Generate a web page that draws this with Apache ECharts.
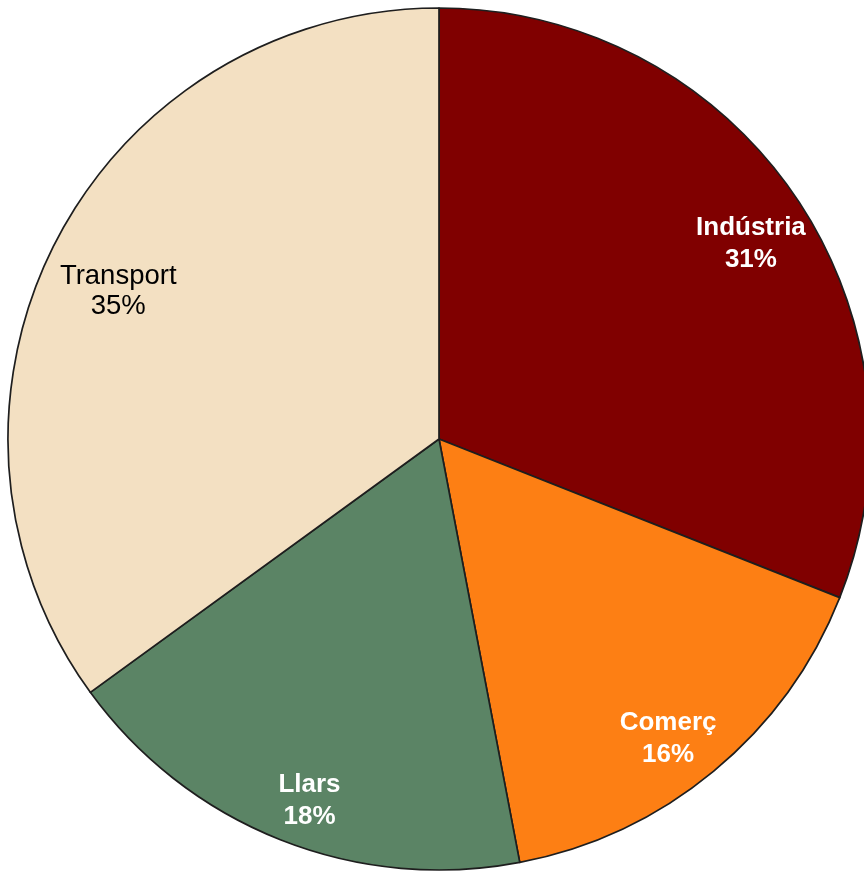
<!DOCTYPE html>
<html>
<head>
<meta charset="utf-8">
<script src="https://cdn.jsdelivr.net/npm/echarts@6/dist/echarts.min.js"></script>
<style>
html,body{margin:0;padding:0;background:#fff;}
#chart{width:864px;height:871px;}
</style>
</head>
<body>
<div id="chart"></div>
<script>
const categories = ['Indústria', 'Comerç', 'Llars', 'Transport'];
const values = [31, 16, 18, 35];
const colors = ['#800000', '#FD7F14', '#5B8465', '#F3E0C2'];
const labelColors = ['#ffffff', '#ffffff', '#ffffff', '#000000'];
const labelWeights = ['bold', 'bold', 'bold', 'normal'];

const chart = echarts.init(document.getElementById('chart'), null, {renderer: 'canvas'});

// small per-label nudges to match the reference label placement
const labelNudge = {
  'Indústria': {offset: [3, 15], fontSize: 26},
  'Comerç': {offset: [-9, 12], fontSize: 26},
  'Llars': {offset: [8, 15], fontSize: 26},
  'Transport': {offset: [12, 22], fontSize: 27.5, lineHeight: 30}
};

const sliceData = categories.map((c, i) => ({
  name: c, value: values[i],
  itemStyle: {color: colors[i]}
}));
const labelData = categories.map((c, i) => ({
  name: c, value: values[i],
  label: Object.assign({color: labelColors[i], fontWeight: labelWeights[i]}, labelNudge[c])
}));

chart.setOption({
  animation: false,
  series: [
    {
      type: 'pie',
      center: [439, 439],
      radius: [0, 431],
      startAngle: 90,
      clockwise: true,
      silent: true,
      itemStyle: {borderColor: '#1e1e1e', borderWidth: 1.7},
      label: {show: false},
      labelLine: {show: false},
      emphasis: {disabled: true},
      data: sliceData
    },
    {
      type: 'pie',
      center: [439, 439],
      radius: [310, 431],
      startAngle: 90,
      clockwise: true,
      silent: true,
      avoidLabelOverlap: false,
      itemStyle: {color: 'rgba(0,0,0,0)', borderWidth: 0},
      label: {
        show: true,
        position: 'inside',
        fontFamily: '"Liberation Sans", Arial, sans-serif',
        fontSize: 26,
        lineHeight: 32,
        align: 'center',
        formatter: function (p) { return p.name + '\n' + p.value + '%'; }
      },
      labelLine: {show: false},
      emphasis: {disabled: true},
      data: labelData
    }
  ]
});
</script>
</body>
</html>
